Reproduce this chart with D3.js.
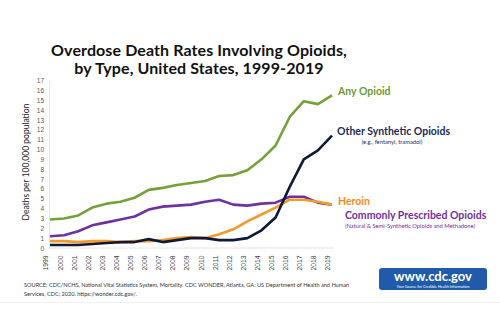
<!DOCTYPE html>
<html>
<head>
<meta charset="utf-8">
<script src="https://cdn.jsdelivr.net/npm/d3@7"></script>
<style>
  body { margin: 0; background: #fff; }
  svg { display: block; font-family: Lato, "Open Sans", sans-serif; }
</style>
</head>
<body>
<svg id="chart" width="500" height="333"></svg>
<script>
// data
var years = d3.range(1999, 2020);
var anyOpioid = [2.9, 3.0, 3.3, 4.1, 4.5, 4.7, 5.1, 5.9, 6.1, 6.4, 6.6, 6.8, 7.3, 7.4, 7.9, 9.0, 10.4, 13.3, 14.9, 14.6, 15.5];
var synthetic = [0.3, 0.3, 0.3, 0.4, 0.5, 0.6, 0.6, 0.9, 0.6, 0.8, 1.0, 1.0, 0.8, 0.8, 1.0, 1.8, 3.1, 6.2, 9.0, 9.9, 11.4];
var heroin = [0.7, 0.7, 0.6, 0.7, 0.7, 0.6, 0.7, 0.7, 0.8, 1.0, 1.1, 1.0, 1.4, 1.9, 2.7, 3.4, 4.1, 4.9, 4.9, 4.7, 4.4];
var prescribed = [1.2, 1.3, 1.7, 2.3, 2.6, 2.9, 3.2, 3.9, 4.2, 4.3, 4.4, 4.7, 4.9, 4.4, 4.3, 4.5, 4.6, 5.2, 5.2, 4.6, 4.4];
var yTicks = d3.range(0, 18);

var series = [
  {name: "prescribed", values: prescribed, color: "#7030a0"},
  {name: "heroin", values: heroin, color: "#f39a2b"},
  {name: "synthetic", values: synthetic, color: "#0e1838"},
  {name: "any", values: anyOpioid, color: "#75a13a"}
];

var svg = d3.select("#chart");

var x = d3.scalePoint().domain(years).range([50, 332]);
var y = d3.scaleLinear().domain([0, 17]).range([248, 80.5]);

// title
svg.append("text")
  .attr("x", 199).attr("y", 55.5)
  .attr("text-anchor", "middle")
  .attr("font-weight", "bold").attr("font-size", 16)
  .attr("letter-spacing", 0.1)
  .attr("fill", "#111")
  .text("Overdose Death Rates Involving Opioids,");
svg.append("text")
  .attr("x", 199).attr("y", 73.5)
  .attr("text-anchor", "middle")
  .attr("font-weight", "bold").attr("font-size", 16)
  .attr("letter-spacing", 0.1)
  .attr("fill", "#111")
  .text("by Type, United States, 1999-2019");

// axes
var yAxis = svg.append("g")
  .attr("transform", "translate(49,0)")
  .call(d3.axisLeft(y).tickValues(yTicks).tickSize(0).tickPadding(5));
yAxis.select(".domain").attr("stroke", "#e4e4e4");
yAxis.selectAll("text").attr("font-size", 6.5).attr("fill", "#555");

var xAxis = svg.append("g")
  .attr("transform", "translate(0,248)")
  .call(d3.axisBottom(x).tickSize(0).tickPadding(4));
xAxis.select(".domain").attr("stroke", "#e4e4e4").attr("d", "M49,0H334");
xAxis.selectAll("text")
  .attr("font-size", 6.8).attr("fill", "#444")
  .attr("transform", "rotate(-90)")
  .attr("text-anchor", "end")
  .attr("dx", "-0.5em").attr("dy", "-0.3em")
  .attr("x", -4).attr("y", 0);

svg.append("text")
  .attr("transform", "translate(29,162) rotate(-90)")
  .attr("text-anchor", "middle")
  .attr("font-size", 8.5).attr("fill", "#222")
  .text("Deaths per 100,000 population");

// lines
var line = d3.line()
  .x(function (d, i) { return x(years[i]); })
  .y(function (d) { return y(d); });

svg.append("g").selectAll("path")
  .data(series)
  .join("path")
  .attr("d", function (d) { return line(d.values); })
  .attr("fill", "none")
  .attr("stroke", function (d) { return d.color; })
  .attr("stroke-width", 2.6)
  .attr("stroke-linejoin", "round");

// line labels
var labels = [
  {text: "Any Opioid", x: 338, y: 95, size: 10.5, color: "#6b9a2f", bold: true},
  {text: "Other Synthetic Opioids", x: 337, y: 135, size: 10.5, color: "#1c2a55", bold: true},
  {text: "(e.g., fentanyl, tramadol)", x: 392, y: 143.5, size: 5.8, color: "#1c2a55", bold: false, mid: true},
  {text: "Heroin", x: 338, y: 204.5, size: 10.5, color: "#ee8a1f", bold: true},
  {text: "Commonly Prescribed Opioids", x: 345, y: 219, size: 10.5, color: "#7030a0", bold: true},
  {text: "(Natural & Semi-Synthetic Opioids and Methadone)", x: 410, y: 228, size: 5.8, color: "#7030a0", bold: false, mid: true}
];
svg.append("g").selectAll("text")
  .data(labels)
  .join("text")
  .attr("x", function (d) { return d.x; })
  .attr("y", function (d) { return d.y; })
  .attr("text-anchor", function (d) { return d.mid ? "middle" : "start"; })
  .attr("font-size", function (d) { return d.size; })
  .attr("font-weight", function (d) { return d.bold ? "bold" : "normal"; })
  .attr("fill", function (d) { return d.color; })
  .text(function (d) { return d.text; });

// source note
svg.append("text")
  .attr("x", 24).attr("y", 287)
  .attr("font-size", 5.6).attr("fill", "#333")
  .text("SOURCE: CDC/NCHS, National Vital Statistics System, Mortality. CDC WONDER, Atlanta, GA: US Department of Health and Human");
svg.append("text")
  .attr("x", 24).attr("y", 295.5)
  .attr("font-size", 5.6).attr("fill", "#333")
  .text("Services, CDC; 2020. https://wonder.cdc.gov/.");

// cdc.gov badge
var badge = svg.append("g");
badge.append("rect")
  .attr("x", 379).attr("y", 268).attr("width", 108).attr("height", 22)
  .attr("rx", 3).attr("fill", "#1f5ba8");
badge.append("text")
  .attr("x", 433).attr("y", 281)
  .attr("text-anchor", "middle")
  .attr("font-size", 13).attr("font-weight", "bold").attr("fill", "#fff")
  .text("www.cdc.gov");
badge.append("text")
  .attr("x", 433).attr("y", 287.5)
  .attr("text-anchor", "middle")
  .attr("font-size", 3.8).attr("fill", "#fff")
  .text("Your Source for Credible Health Information");

svg.append("line")
  .attr("x1", 0).attr("x2", 500).attr("y1", 302.5).attr("y2", 302.5)
  .attr("stroke", "#f2f2f2");
</script>
</body>
</html>
